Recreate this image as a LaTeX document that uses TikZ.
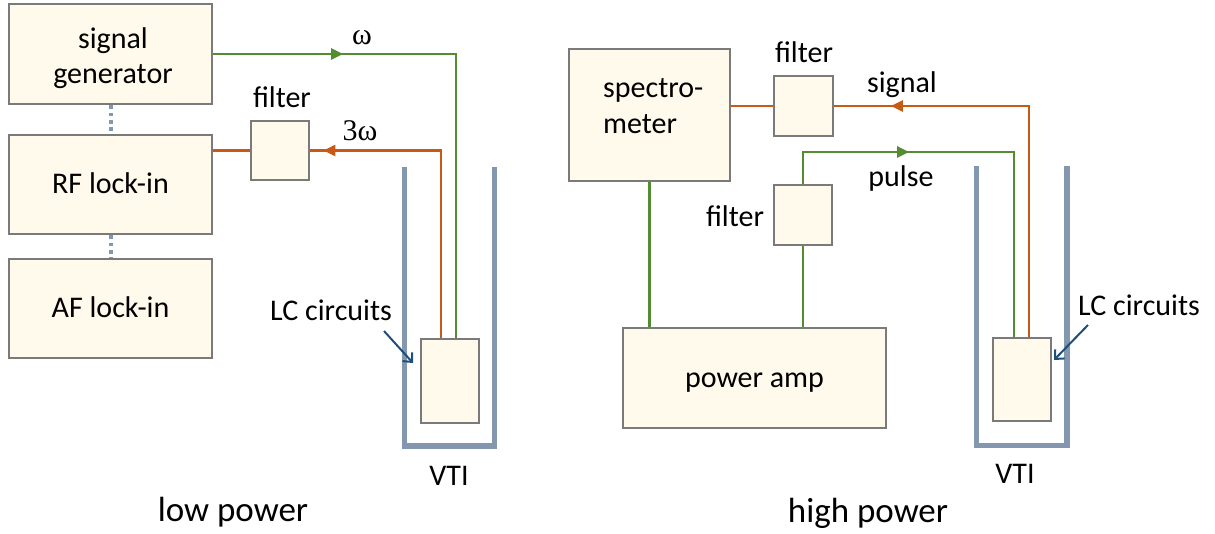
\documentclass[tikz,border=0pt]{standalone}
\usepackage{fontspec}
\setmainfont{Carlito}
\newfontfamily\serif{Liberation Serif}
\usetikzlibrary{arrows.meta,decorations.markings}
\definecolor{boxfill}{HTML}{FFFAEB}
\definecolor{boxline}{HTML}{7A7A7A}
\definecolor{grn}{HTML}{548C32}
\definecolor{org}{HTML}{C85A14}
\definecolor{vti}{HTML}{8497B0}
\definecolor{arrblue}{HTML}{1F4E79}
\tikzset{
  box/.style={draw=boxline, fill=boxfill, line width=2.3pt, inner sep=0pt,
    font=\fontsize{30}{36}\selectfont, text height=24pt, text depth=6pt},
  lbl/.style={font=\fontsize{30}{36}\selectfont, anchor=base, inner sep=0pt},
  biglbl/.style={font=\fontsize{35}{42}\selectfont, anchor=base, inner sep=0pt},
  glbl/.style={font=\fontsize{30}{36}\selectfont\serif, anchor=base, inner sep=0pt},
  gline/.style={draw=grn, line width=2.7pt},
  oline/.style={draw=org, line width=2.7pt},
  tri at/.style={postaction={decorate}, decoration={markings,
    mark=at position #1 with {\arrow{Triangle[length=12pt,width=11pt]}}}},
  dotline/.style={draw=vti, line width=4pt, dash pattern=on 3.8pt off 3.6pt},
  vtiwall/.style={draw=vti, line width=5.5pt},
  lcarrow/.style={draw=arrblue, line width=2pt, -{Straight Barb[length=7pt,width=13pt]}}
}
\begin{document}
\begin{tikzpicture}[x=1pt,y=-1pt]
\useasboundingbox (0,0) rectangle (1215,534);
% ---------- low power ----------
\node[box, minimum width=203, minimum height=100] (sg) at (110.5,54) {};
\node[font=\fontsize{30}{35}\selectfont, align=center, inner sep=0pt] (sgt) at (113,58) {signal\\generator};
\node[box, minimum width=203, minimum height=99] (rf) at (110.5,184.5) {RF lock-in};
\node[box, minimum width=203, minimum height=99] (af) at (110.5,308.5) {AF lock-in};
\node[box, minimum width=58, minimum height=59] (f0) at (280,150.5) {};
\node[box, minimum width=58, minimum height=84] (lc0) at (450,381) {};
\draw[dotline] (sg.south) -- (rf.north);
\draw[dotline] (rf.south) -- (af.north);
\draw[gline, tri at=130pt] (sg.east) -| ([xshift=6pt]lc0.north);
\draw[oline, tri at=305pt] ([xshift=-9pt]lc0.north) |- (f0.east);
\draw[oline] (f0.west) -- (f0.west -| rf.east);
\draw[vtiwall] (404.5,167) -- (404.5,446) -- (494.5,446) -- (494.5,167);
\node[lbl] (f0l) at (282,108) {filter};
\node[glbl] (wl) at (362,45) {ω};
\node[glbl] (w3l) at (360,141) {3ω};
\node[lbl] (lc0l) at (331,321) {LC circuits};
\coordinate (lc0a) at (384,331);
\draw[lcarrow] (lc0a) -- (413,363);
\node[lbl] (vti0) at (449,485) {VTI};
\node[biglbl] (lowp) at (233,521) {low power};
% ---------- high power ----------
\node[box, minimum width=161, minimum height=132] (spec) at (649.5,115) {};
\node[font=\fontsize{30}{36}\selectfont, align=left, inner sep=0pt, anchor=north west] (spect) at (603,78) {spectro-\\meter};
\node[box, minimum width=59, minimum height=60] (f1) at (803.5,106) {};
\node[box, minimum width=58, minimum height=60] (f2) at (803,215) {};
\node[box, minimum width=263, minimum height=100] (pa) at (754.5,378) {power amp};
\node[box, minimum width=58, minimum height=83] (lc1) at (1022,379.5) {};
\coordinate (g1) at (1014,152);
\draw[oline, tri at=369pt] ([xshift=7pt]lc1.north) |- (f1.east);
\draw[oline] (f1.west) -- (f1.west -| spec.east);
\draw[gline, tri at=138pt] (f2.north) |- (g1) -- (g1 |- lc1.north);
\draw[gline] (spec.south) -- (spec.south |- pa.north);
\draw[gline] (f2.south) -- (f2.south |- pa.north);
\draw[vtiwall] (976.5,166) -- (976.5,445.5) -- (1067,445.5) -- (1067,166);
\node[lbl] (f1l) at (804,63) {filter};
\node[lbl] (f2l) at (735,227) {filter};
\node[lbl] (sigl) at (902,93) {signal};
\node[lbl] (pull) at (901,187) {pulse};
\node[lbl] (lc1l) at (1139,316) {LC circuits};
\coordinate (lc1a) at (1088,325);
\draw[lcarrow] (lc1a) -- (1054,360);
\node[lbl] (vti1) at (1015,483) {VTI};
\node[biglbl] (highp) at (868,522) {high power};
\end{tikzpicture}
\end{document}
